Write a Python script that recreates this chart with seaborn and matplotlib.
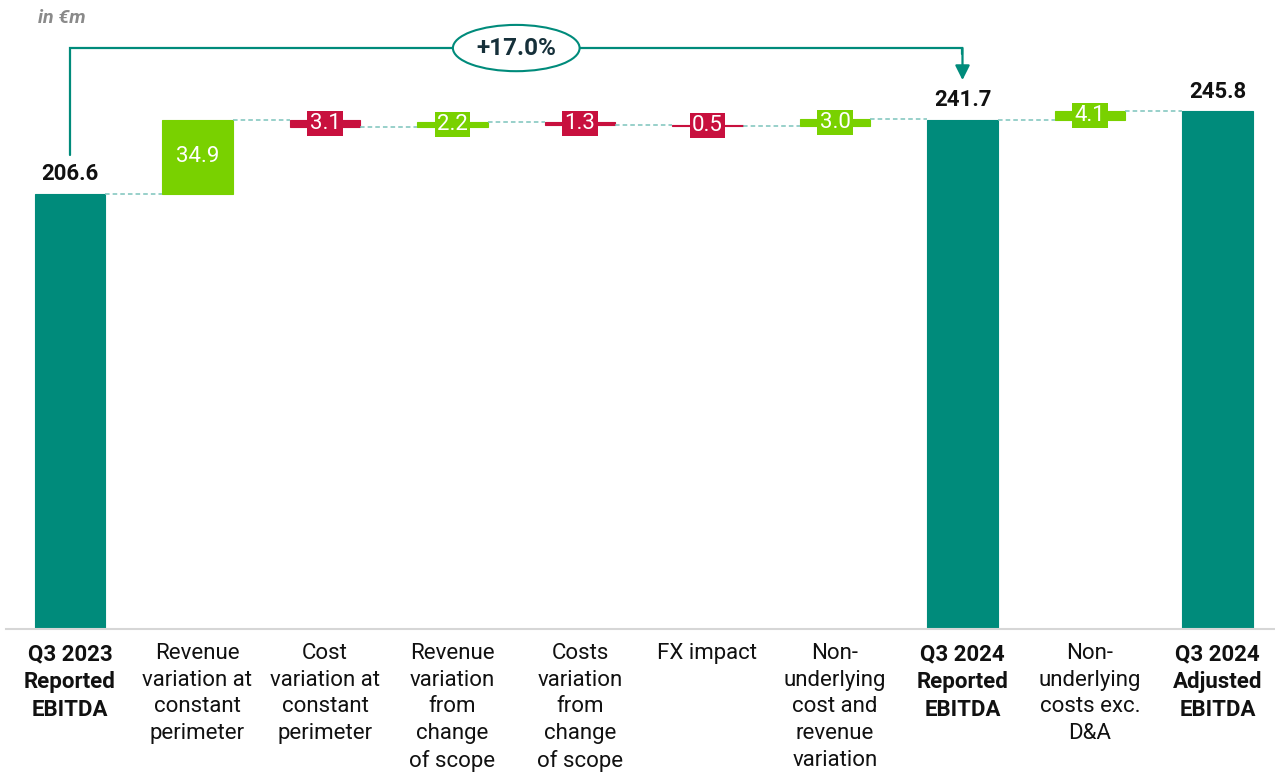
import numpy as np
import pandas as pd
import matplotlib
matplotlib.use("Agg")
import matplotlib.pyplot as plt
import seaborn as sns

# data (in EUR m)
categories = [
    "Q3 2023\nReported\nEBITDA",
    "Revenue\nvariation at\nconstant\nperimeter",
    "Cost\nvariation at\nconstant\nperimeter",
    "Revenue\nvariation\nfrom\nchange\nof scope",
    "Costs\nvariation\nfrom\nchange\nof scope",
    "FX impact",
    "Non-\nunderlying\ncost and\nrevenue\nvariation",
    "Q3 2024\nReported\nEBITDA",
    "Non-\nunderlying\ncosts exc.\nD&A",
    "Q3 2024\nAdjusted\nEBITDA",
]
values = [206.6, 34.9, -3.1, 2.2, -1.3, -0.5, 3.0, 241.7, 4.1, 245.8]
is_total = [True, False, False, False, False, False, False, True, False, True]
growth_label = "+17.0%"

TEAL = "#008B7B"
GREEN = "#79D100"
RED = "#C8103E"
DASH = "#7CC4BC"

sns.set_theme(style="white")
plt.rcParams["font.family"] = ["Roboto", "DejaVu Sans"]

# waterfall bottoms / tops
bottoms, tops, colors = [], [], []
level = 0.0
for v, t in zip(values, is_total):
    if t:
        bottoms.append(0.0)
        tops.append(v)
        level = v
        colors.append(TEAL)
    else:
        bottoms.append(min(level, level + v))
        tops.append(max(level, level + v))
        level = level + v
        colors.append(GREEN if v > 0 else RED)

df = pd.DataFrame({
    "cat": categories,
    "height": np.array(tops) - np.array(bottoms),
})

fig = plt.figure(figsize=(12.75, 7.81), dpi=100)
ax = fig.add_axes([0.0049, 0.1946, 1.0, 0.8054])

sns.barplot(data=df, x="cat", y="height", hue="cat", palette=colors,
            legend=False, width=0.55, ax=ax, saturation=1)

bars = sorted(ax.patches, key=lambda p: p.get_x())
for p, b, c in zip(bars, bottoms, colors):
    p.set_y(b)
    p.set_edgecolor(c)
    p.set_linewidth(0.8)

ax.set_xlim(-0.5, 9.5)
ax.set_ylim(0, 298.5)

# connectors
ends = []
for i, (v, t) in enumerate(zip(values, is_total)):
    ends.append(tops[i] if (t or v > 0) else bottoms[i])
for i in range(len(values) - 1):
    ax.plot([i + 0.275, i + 1 - 0.275], [ends[i], ends[i]], color=DASH,
            lw=1.1, ls=(0, (3, 2)), zorder=1)

# labels
for i, (v, t) in enumerate(zip(values, is_total)):
    mid = (bottoms[i] + tops[i]) / 2
    if t:
        ax.annotate(f"{v:.1f}", (i, tops[i]), xytext=(0, 6),
                    textcoords="offset points", ha="center", va="bottom",
                    fontsize=16, fontweight="bold", color="#111111")
    elif abs(v) > 10:
        ax.text(i, mid, f"{abs(v):.1f}", ha="center", va="center",
                fontsize=16, color="white")
    else:
        ax.text(i, mid, f"{abs(v):.1f}", ha="center", va="center",
                fontsize=16, color="white", zorder=5,
                bbox=dict(boxstyle="square,pad=0.1", fc=colors[i], ec="none"))

# growth arrow from first to second reported total
y_top = 275.7
ax.plot([0, 0, 7, 7], [225, y_top, y_top, y_top - 3], color=TEAL, lw=1.6,
        solid_joinstyle="miter", zorder=2)
ax.annotate("", xy=(7, 260.5), xytext=(7, y_top),
            arrowprops=dict(arrowstyle="-|>", color=TEAL, lw=1.6,
                            mutation_scale=22, shrinkA=0, shrinkB=0))
ax.text(3.5, y_top, growth_label, ha="center", va="center", fontsize=17.5,
        fontweight="bold", color="#16303a", zorder=6,
        bbox=dict(boxstyle="ellipse,pad=0.2", fc="white", ec=TEAL, lw=1.5))

fig.text(38 / 1275, 1 - 18 / 781, "in €m", ha="left", va="center",
         fontsize=14, fontstyle="italic", fontweight="bold", color="#8a8a8a")

# axes styling
for s in ["top", "right", "left"]:
    ax.spines[s].set_visible(False)
ax.spines["bottom"].set_color("#d6d6d6")
ax.spines["bottom"].set_linewidth(1.5)
ax.set_yticks([])
ax.set_xlabel("")
ax.set_ylabel("")
ax.tick_params(axis="x", length=0, pad=10)
ax.set_xticks(range(len(categories)))
ax.set_xticklabels(categories, fontsize=16, linespacing=1.36,
                   multialignment="center", va="top", color="#111111")
for lab, t in zip(ax.get_xticklabels(), is_total):
    if t:
        lab.set_fontweight("bold")

fig.savefig("out.png", dpi=100)
